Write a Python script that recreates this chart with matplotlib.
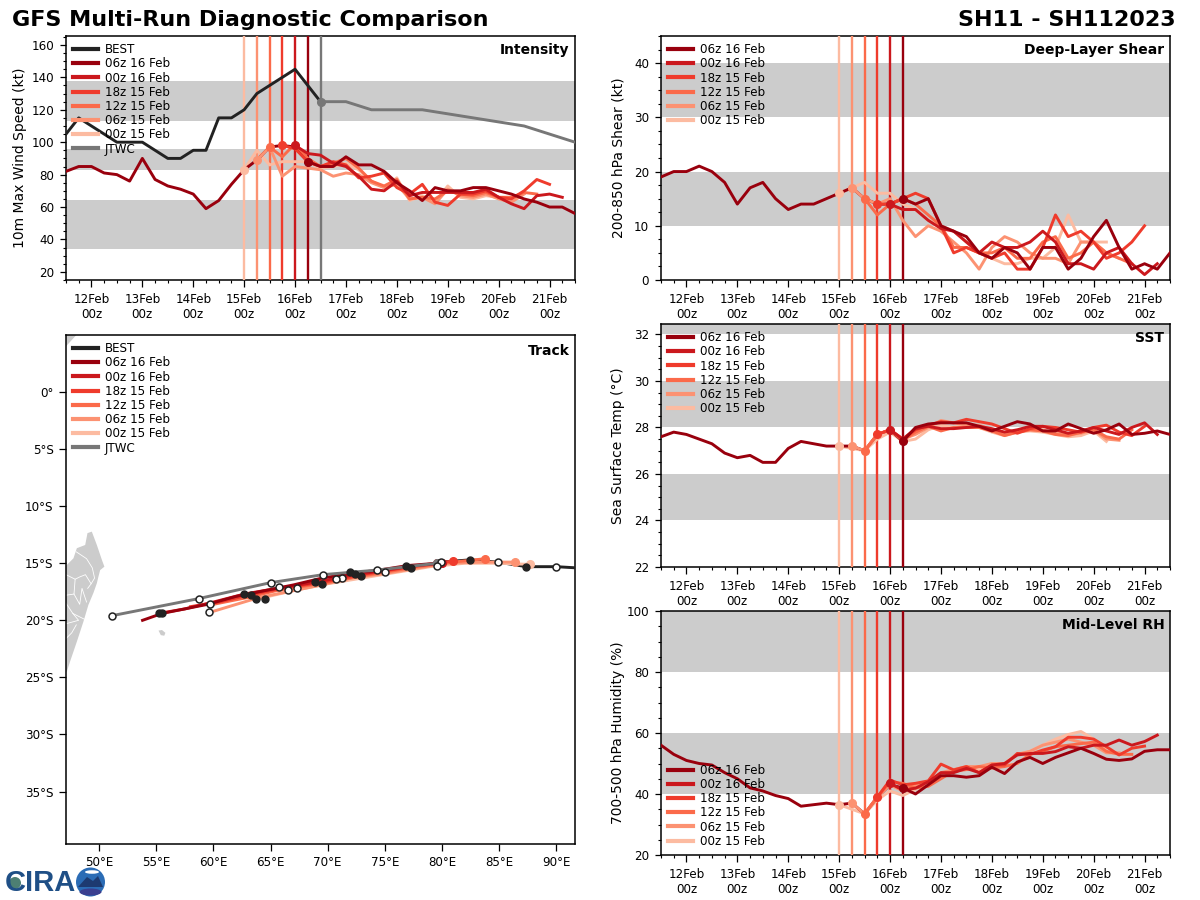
import matplotlib
matplotlib.use('Agg')
import matplotlib.pyplot as plt
from matplotlib.patches import Circle, Polygon, Ellipse
from matplotlib.ticker import MultipleLocator
import numpy as np

run_names = ['00z 15 Feb', '06z 15 Feb', '12z 15 Feb', '18z 15 Feb', '00z 16 Feb', '06z 16 Feb']
run_colors = ['#fcbba1', '#fc9272', '#fb6a4a', '#ef3b2c', '#cb181d', '#99000d']
run_starts = [15.0, 15.25, 15.5, 15.75, 16.0, 16.25]
hist_start = 11.5

# intensity
best_vmax = [105, 115, 110, 105, 100, 100, 100, 95, 90, 90, 95, 95, 115, 115, 120, 130, 135, 140, 145, 135, 125]
jtwc_days = [16.5, 17.0, 17.5, 18.5, 20.5, 21.5]
jtwc_vmax = [125, 125, 120, 120, 110, 100]
hist_vmax = [82, 85, 85, 81, 80, 76, 90, 77, 73, 71, 68, 59, 64, 74, 83, 89, 97, 98, 97, 88]
vmax_runs = [
    [83, 95, 86, 88, 88, 88, 84, 85, 87, 83, 76, 72, 78, 64, 67, 63, 73, 66, 65, 67, 66, 66],
    [89, 97, 79, 85, 84, 83, 79, 81, 80, 75, 72, 74, 65, 66, 62, 71, 67, 66, 68, 65, 63, 68],
    [97, 91, 99, 90, 85, 87, 90, 84, 76, 73, 77, 65, 66, 65, 70, 68, 67, 69, 66, 66, 69, 68],
    [98, 96, 88, 85, 88, 86, 78, 79, 81, 72, 68, 74, 63, 61, 68, 68, 70, 66, 65, 70, 77, 74],
    [98, 93, 92, 87, 85, 79, 71, 70, 76, 67, 69, 69, 69, 69, 69, 71, 66, 62, 59, 67, 68, 66],
    [88, 85, 85, 91, 86, 86, 82, 75, 70, 64, 72, 70, 70, 72, 72, 70, 68, 65, 63, 60, 60, 56],
]

# shear
hist_shear = [19, 20, 20, 21, 20, 18, 14, 17, 18, 15, 13, 14, 14, 15, 16, 17, 15, 14, 14, 15]
shear_runs = [
    [16, 17, 18, 16, 16, 14, 13, 11, 10, 9, 7, 5, 4, 3, 3, 4, 4, 6, 12, 7, 7, 7],
    [17, 15, 14, 15, 11, 8, 10, 9, 7, 5, 2, 6, 8, 7, 5, 4, 4, 3, 7, 7, 5, 4],
    [15, 12, 14, 15, 14, 12, 10, 6, 6, 5, 5, 6, 4, 4, 7, 8, 4, 5, 7, 5, 4, 3],
    [14, 14, 15, 16, 15, 10, 5, 6, 5, 4, 5, 2, 2, 6, 12, 8, 9, 7, 4, 5, 7, 10],
    [14, 13, 13, 11, 9.5, 9, 7, 5, 7, 6, 6, 7, 9, 7, 3, 3, 2, 5, 6, 3, 1, 3],
    [15, 14, 15, 10, 9, 8, 5, 4, 6, 5, 2, 6, 6, 2, 4, 8, 11, 6, 2, 3, 2, 5],
]

# sst
hist_sst = [27.6, 27.8, 27.7, 27.5, 27.3, 26.9, 26.7, 26.8, 26.5, 26.5, 27.1, 27.4, 27.3, 27.2, 27.2, 27.2, 27.0, 27.7, 27.9, 27.4]
sst_runs = [
    [27.2, 27.1, 27.0, 27.5, 27.8, 27.4, 27.5, 27.9, 28.1, 28.0, 28.1, 28.0, 27.8, 27.65, 27.8, 27.85, 27.8, 27.7, 27.6, 27.65, 27.85, 27.4],
    [27.2, 27.0, 27.7, 27.9, 27.5, 27.7, 28.0, 28.3, 28.2, 28.1, 28.1, 27.9, 27.7, 27.8, 27.9, 27.9, 27.75, 27.7, 27.75, 27.9, 27.5, 27.45],
    [27.0, 27.7, 27.9, 27.45, 27.8, 28.05, 27.85, 28.0, 28.0, 28.0, 27.85, 27.65, 27.8, 27.9, 27.85, 27.7, 27.65, 27.8, 27.9, 27.6, 27.5, 27.9],
    [27.7, 27.9, 27.5, 27.9, 28.1, 28.25, 28.2, 28.35, 28.25, 28.15, 27.95, 27.75, 27.95, 28.05, 28.0, 27.9, 27.8, 28.0, 28.1, 27.8, 27.65, 28.05],
    [27.9, 27.5, 27.95, 28.05, 27.95, 27.95, 28.0, 28.05, 27.95, 27.8, 27.9, 28.05, 28.05, 27.9, 27.75, 27.85, 28.0, 27.85, 27.7, 28.0, 28.2, 27.7],
    [27.4, 28.0, 28.15, 28.2, 28.2, 28.2, 28.05, 27.85, 28.05, 28.25, 28.15, 27.85, 27.85, 28.15, 27.95, 27.75, 27.9, 28.15, 27.7, 27.75, 27.85, 27.7],
]

# rh
hist_rh = [56, 53, 51, 50, 49.5, 47, 45, 42, 41, 39.5, 38.5, 36, 36.5, 37, 36.5, 37, 33.5, 39, 43, 42]
rh_runs = [
    [36.5, 35, 33.5, 38, 41, 39.5, 41.5, 44, 46.5, 47.5, 49, 48, 50, 50, 53, 54, 56, 58, 59.5, 60.5, 58, 55],
    [37, 33.5, 39, 43, 41, 43, 44, 47, 48, 49, 49, 50, 50, 53, 54, 56, 57, 58, 57, 56, 53.5, 53.5],
    [33.5, 39, 44, 43.5, 42, 42.5, 45, 47.5, 48, 49, 48.5, 49, 50, 53, 54, 55.5, 56, 56.5, 57, 54, 53, 53],
    [39, 44.6, 43, 43.5, 44.3, 49.8, 47.9, 49, 47, 49.5, 49.5, 53.3, 53, 54.4, 55.5, 58.6, 58.6, 58, 55.5, 52.8, 55, 55.7],
    [43.5, 41.3, 41.9, 44, 47, 47, 48.4, 47, 49.5, 50, 52.8, 53.3, 53.3, 53.9, 55.5, 55, 56, 56, 57.7, 56, 57.2, 59.3],
    [42, 40, 43, 46, 46, 45.5, 46, 48.8, 46.7, 50.5, 52, 50, 52, 53.5, 55, 53.3, 51.4, 51, 51.5, 54, 54.5, 54.5],
]

# track
best_lon = [91.7, 90.0, 87.4, 84.9, 82.5, 79.9]
best_lat = [-15.4, -15.3, -15.3, -14.9, -14.7, -14.9]
jtwc_lon = [79.6, 74.3, 69.6, 65.0, 58.7, 51.1]
jtwc_lat = [-15.0, -15.6, -16.0, -16.7, -18.1, -19.6]
track_lons = [
    [87.7, 85, 82, 79, 76, 73, 70, 67, 64],
    [86.4, 83.5, 80.5, 78, 75, 72, 69.5, 67, 64, 59.7],
    [83.8, 81, 78, 75.5, 73, 70.5, 68, 65.5, 63, 60],
    [81, 78, 75.5, 73, 70.5, 68, 65.5, 63, 60.5, 58],
    [80, 77, 74.5, 72.3, 69.8, 67.5, 65, 62.7, 60, 57.5, 55.2],
    [79.6, 77, 74.5, 72, 69.5, 67, 64.5, 62, 59.5, 57, 55.5, 53.8],
]
track_lats = [
    [-15.1, -15.0, -15.0, -15.3, -15.8, -16.3, -16.8, -17.4, -18.1],
    [-14.9, -14.9, -15.0, -15.4, -15.9, -16.3, -16.9, -17.4, -18.0, -19.3],
    [-14.6, -14.9, -15.3, -15.7, -16.1, -16.6, -17.0, -17.4, -18.0, -18.6],
    [-14.8, -15.2, -15.6, -16.0, -16.5, -16.9, -17.3, -17.8, -18.4, -18.8],
    [-15.0, -15.3, -15.7, -16.0, -16.5, -16.9, -17.3, -17.7, -18.4, -19.0, -19.4],
    [-15.0, -15.2, -15.6, -15.9, -16.3, -16.9, -17.4, -17.9, -18.6, -19.1, -19.4, -20.0],
]
black_lon = [87.4, 82.5, 76.9, 77.3, 72.0, 72.9, 72.4, 69.5, 68.9, 64.5, 63.7, 63.3, 62.7, 55.5, 55.2]
black_lat = [-15.3, -14.7, -15.2, -15.4, -15.8, -16.1, -15.9, -16.8, -16.6, -18.1, -18.1, -17.8, -17.7, -19.4, -19.4]
white_lon = [90.0, 84.9, 79.9, 79.6, 74.3, 75.0, 71.3, 70.7, 69.6, 67.3, 66.5, 65.7, 65.0, 59.7, 59.6, 58.7, 51.1]
white_lat = [-15.3, -14.9, -14.9, -15.2, -15.6, -15.8, -16.3, -16.4, -16.0, -17.2, -17.3, -17.1, -16.7, -18.6, -19.3, -18.1, -19.6]

# land
madagascar_lon = [44, 47.17, 47.75, 48.05, 48.78, 48.98, 49.36, 49.8, 50.24, 50.46, 50.09, 49.94, 49.8, 49.5, 49.06, 48.63, 48.05, 47.46, 47.17, 44]
madagascar_lat = [-15.2, -15.15, -14.57, -13.68, -13.4, -12.36, -12.23, -13.4, -14.7, -15.3, -15.6, -16.17, -16.75, -17.6, -18.65, -20.1, -21.87, -23.6, -24.5, -25]
province_lines = [
    ([48.0, 48.9, 49.4, 49.6, 49.3, 49.0], [-14.0, -14.6, -15.4, -16.3, -16.8, -17.2]),
    ([47.1, 47.9, 48.3, 48.8, 49.3], [-16.0, -16.4, -16.2, -16.0, -16.8]),
    ([47.9, 47.8, 47.1], [-16.4, -17.7, -17.8]),
    ([47.8, 48.3, 48.5, 48.9], [-17.7, -18.6, -17.2, -18.4]),
    ([47.1, 47.7, 48.2, 47.1], [-18.5, -19.4, -20.0, -20.3]),
    ([47.7, 48.1, 48.7], [-19.4, -19.6, -19.9]),
    ([47.1, 47.6, 48.0], [-21.6, -21.1, -20.4]),
]
reunion_lon = [55.2, 55.5, 55.8, 55.7, 55.4]
reunion_lat = [-20.9, -20.85, -21.1, -21.35, -21.3]
somalia_lon = [47.0, 48.1, 47.0]
somalia_lat = [5.1, 5.1, 3.9]

tick_days = np.arange(12, 22)
tick_labels = ['%dFeb\n00z' % d for d in tick_days]
W, H = 1200.0, 900.0
LW = 2.1
MS = 5.5


def add_panel(fig, x0, y0, x1, y1):
    return fig.add_axes([x0 / W, 1 - y1 / H, (x1 - x0) / W, (y1 - y0) / H])


def style_time_axis(ax, ylim, major, minor, ylabel, title, bands, label_x):
    ax.set_xlim(11.5, 21.5)
    ax.set_ylim(*ylim)
    for lo, hi in bands:
        ax.axhspan(lo, hi, color='#cccccc', lw=0, zorder=0)
    ax.set_xticks(tick_days)
    ax.set_xticklabels(tick_labels, fontsize=8.6)
    ax.xaxis.set_minor_locator(MultipleLocator(0.25))
    ax.yaxis.set_major_locator(MultipleLocator(major))
    ax.yaxis.set_minor_locator(MultipleLocator(minor))
    ax.tick_params(axis='y', which='major', length=4.5, width=0.9, labelsize=8.6, pad=4)
    ax.tick_params(axis='x', which='major', length=5, width=0.9, labelsize=8.6, pad=4.5)
    ax.tick_params(axis='both', which='minor', length=2.2, width=0.8)
    ax.set_ylabel(ylabel, fontsize=10)
    ax.yaxis.set_label_coords(label_x, 0.5)
    ax.text(0.989, 0.97, title, transform=ax.transAxes, ha='right', va='top', fontsize=10, fontweight='bold', zorder=20)
    for s in ax.spines.values():
        s.set_linewidth(1.1)


def draw_runs(ax, hist, runs):
    # history belongs to the newest run, drawn under the forecasts
    hx = hist_start + 0.25 * np.arange(len(hist))
    for i, vals in enumerate(runs):
        t = run_starts[i] + 0.25 * np.arange(len(vals))
        ax.axvline(run_starts[i], color=run_colors[i], lw=1.7, zorder=3)
        ax.plot(t, vals, color=run_colors[i], lw=LW, label=run_names[i], zorder=4 + i)
    ax.plot(hx, hist, color=run_colors[-1], lw=LW, zorder=4)
    for i, vals in enumerate(runs):
        ax.plot(run_starts[i], vals[0], 'o', color=run_colors[i], ms=MS, zorder=11)


def add_legend(ax, handles, labels, loc='upper left'):
    leg = ax.legend(handles, labels, loc=loc, frameon=False, fontsize=8.6, labelspacing=0.1,
                    handlelength=2.05, handletextpad=0.6, borderaxespad=0.3, borderpad=0.3)
    leg.set_zorder(15)
    for line in leg.get_lines():
        line.set_linewidth(3)


fig = plt.figure(figsize=(12, 9), dpi=100)
fig.text(12 / W, 1 - 20 / H, 'GFS Multi-Run Diagnostic Comparison', fontsize=16, fontweight='bold', ha='left', va='center')
fig.text(1176 / W, 1 - 20 / H, 'SH11 - SH112023', fontsize=16, fontweight='bold', ha='right', va='center')

# Intensity
ax1 = add_panel(fig, 66, 36, 575, 280)
style_time_axis(ax1, (15, 165.5), 20, 5, '10m Max Wind Speed (kt)', 'Intensity', [(34, 64.5), (83, 96), (113, 137.5)], -0.076)
best_days = hist_start + 0.25 * np.arange(len(best_vmax))
best_line, = ax1.plot(best_days, best_vmax, color='#222222', lw=LW, zorder=4)
draw_runs(ax1, hist_vmax, vmax_runs)
jtwc_line, = ax1.plot(jtwc_days, jtwc_vmax, color='#777777', lw=LW, zorder=4)
ax1.axvline(jtwc_days[0], color='#777777', lw=1.7, zorder=3)
ax1.plot(jtwc_days[0], jtwc_vmax[0], 'o', color='#777777', ms=MS, zorder=11)
h, l = ax1.get_legend_handles_labels()
add_legend(ax1, [best_line] + h[::-1] + [jtwc_line], ['BEST'] + l[::-1] + ['JTWC'])

# Shear
ax2 = add_panel(fig, 661, 36, 1170, 280)
style_time_axis(ax2, (0, 45), 10, 2.5, '200-850 hPa Shear (kt)', 'Deep-Layer Shear', [(10, 20), (30, 40)], -0.0707)
draw_runs(ax2, hist_shear, shear_runs)
h, l = ax2.get_legend_handles_labels()
add_legend(ax2, h[::-1], l[::-1])

# SST
ax3 = add_panel(fig, 661, 324, 1170, 567)
style_time_axis(ax3, (22, 32.45), 2, 0.5, 'Sea Surface Temp (°C)', 'SST', [(24, 26), (28, 30), (32, 34)], -0.0707)
draw_runs(ax3, hist_sst, sst_runs)
h, l = ax3.get_legend_handles_labels()
add_legend(ax3, h[::-1], l[::-1])

# RH
ax4 = add_panel(fig, 661, 611, 1170, 855)
style_time_axis(ax4, (20, 100), 20, 5, '700-500 hPa Humidity (%)', 'Mid-Level RH', [(40, 60), (80, 100)], -0.0707)
draw_runs(ax4, hist_rh, rh_runs)
h, l = ax4.get_legend_handles_labels()
add_legend(ax4, h[::-1], l[::-1], loc='lower left')

# Track
ax5 = add_panel(fig, 66, 335, 575, 844)
ax5.set_xlim(47.1, 91.65)
ax5.set_ylim(-39.6, 5.0)
land = '#cccccc'
ax5.add_patch(Polygon(np.column_stack([madagascar_lon, madagascar_lat]), closed=True, fc=land, ec='none', zorder=1))
ax5.add_patch(Polygon(np.column_stack([reunion_lon, reunion_lat]), closed=True, fc=land, ec='none', zorder=1))
ax5.add_patch(Polygon(np.column_stack([somalia_lon, somalia_lat]), closed=True, fc=land, ec='none', zorder=1))
for plon, plat in province_lines:
    ax5.plot(plon, plat, color='white', lw=0.6, zorder=2)
best_tr, = ax5.plot(best_lon, best_lat, color='#222222', lw=LW, zorder=4)
for i in range(len(track_lons)):
    ax5.plot(track_lons[i], track_lats[i], color=run_colors[i], lw=LW, label=run_names[i], zorder=4 + i)
    ax5.plot(track_lons[i][0], track_lats[i][0], 'o', color=run_colors[i], ms=MS, zorder=11)
jtwc_tr, = ax5.plot(jtwc_lon, jtwc_lat, color='#777777', lw=LW, zorder=11)
ax5.plot(jtwc_lon[0], jtwc_lat[0], 'o', color='#777777', ms=MS, zorder=11)
ax5.plot(black_lon, black_lat, 'o', color='#222222', ms=5, ls='none', zorder=12)
ax5.plot(white_lon, white_lat, 'o', mfc='white', mec='#222222', mew=1.1, ms=5, ls='none', zorder=13)
ax5.set_xticks(np.arange(50, 95, 5))
ax5.set_xticklabels(['%d°E' % v for v in range(50, 95, 5)])
ax5.set_yticks(np.arange(-35, 5, 5))
ax5.set_yticklabels(['%d°S' % -v if v < 0 else '0°' for v in range(-35, 5, 5)])
ax5.tick_params(axis='both', length=5, width=0.9, labelsize=8.6, pad=4)
for s in ax5.spines.values():
    s.set_linewidth(1.1)
ax5.text(0.989, 0.983, 'Track', transform=ax5.transAxes, ha='right', va='top', fontsize=10, fontweight='bold', zorder=20)
h, l = ax5.get_legend_handles_labels()
add_legend(ax5, [best_tr] + h[::-1] + [jtwc_tr], ['BEST'] + l[::-1] + ['JTWC'])

# logo, overlay in pixel coordinates
logo = fig.add_axes([0, 0, 1, 1], zorder=30)
logo.set_xlim(0, W)
logo.set_ylim(H, 0)
logo.axis('off')
logo.add_patch(Circle((90.5, 882), 14.5, fc='#2b6cb5', ec='none'))
logo.add_patch(Ellipse((90.5, 892), 22, 7, fc='#3a3f8f', ec='none'))
logo.add_patch(Polygon([(78, 887), (87, 877), (93, 881), (98, 876), (103, 887)], closed=True, fc='#1d3a70', ec='none'))
logo.add_patch(Ellipse((92, 872), 14, 3.5, fc='white', ec='none'))
logo.text(5, 883, 'CIRA', fontsize=21, fontweight='bold', color='#1f4f86', ha='left', va='center', family='Liberation Sans')
logo.add_patch(Circle((15, 883), 6, fc='#4d7f73', ec='none'))

plt.savefig('out.png', dpi=100)
